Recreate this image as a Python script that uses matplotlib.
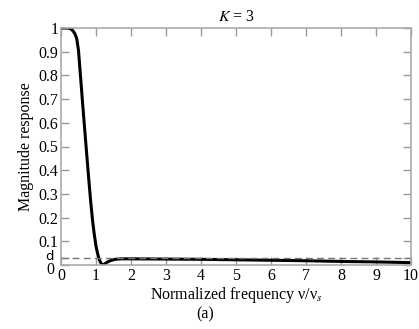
import matplotlib
matplotlib.use('Agg')
import matplotlib.pyplot as plt

plt.rcParams['font.family'] = ['Liberation Serif', 'DejaVu Serif']
plt.rcParams['mathtext.fontset'] = 'stix'

# magnitude response
freq = [0.0, 0.2, 0.3, 0.35, 0.4, 0.45, 0.5, 0.55, 0.6, 0.65, 0.7, 0.75, 0.8,
        0.85, 0.9, 0.95, 1.0, 1.05, 1.1, 1.15, 1.2, 1.3, 1.4, 1.55, 1.73, 2.0,
        3.0, 4.0, 5.0, 6.0, 7.0, 8.0, 9.0, 10.0]
mag = [1.0, 1.0, 0.995, 0.986, 0.975, 0.955, 0.905, 0.81, 0.715, 0.622, 0.53,
       0.44, 0.35, 0.265, 0.19, 0.13, 0.08, 0.045, 0.02, 0.006, 0.0, 0.01, 0.018,
       0.024, 0.026, 0.026, 0.025, 0.024, 0.022, 0.02, 0.018, 0.015, 0.013, 0.01]
d_level = 0.028

yticks = [0, d_level, 0.1, 0.2, 0.3, 0.4, 0.5, 0.6, 0.7, 0.8, 0.9, 1]
ylabels = ['', '', '0.1', '0.2', '0.3', '0.4', '0.5', '0.6', '0.7', '0.8', '0.9', '1']
xticks = list(range(0, 11))

fig = plt.figure(figsize=(4.19, 3.29), dpi=100)
ax = fig.add_axes([61/419, 1 - 265/329, 350/419, 237/329])

ax.plot(freq, mag, color='black', lw=2.2, solid_joinstyle='round')
ax.axhline(d_level, color='#777777', lw=1.0, ls=(0, (5, 3)))

ax.set_xlim(0, 10)
ax.set_ylim(0, 1)
ax.set_xticks(xticks)
ax.set_yticks(yticks)
ax.set_yticklabels(ylabels)

# the '0' and 'd' labels sit a bit apart in the original
ax.annotate('d', xy=(0, d_level), xycoords=('axes fraction', 'data'),
            xytext=(-7, 2), textcoords='offset pixels', ha='right', va='center',
            fontsize=9.5, family='DejaVu Sans')
ax.annotate('0', xy=(0, 0), xycoords=('axes fraction', 'data'),
            xytext=(-7, -5), textcoords='offset pixels', ha='right', va='center',
            fontsize=11.5)

ax.tick_params(direction='in', top=True, right=True, color='#999999', length=6,
               width=1, labelsize=11.5, pad=2)
for s in ax.spines.values():
    s.set_color('#aaaaaa')
    s.set_linewidth(1.2)

ax.set_title('$K$ = 3', fontsize=11.5, pad=5)
ax.set_ylabel('Magnitude response', fontsize=11.5, labelpad=3)
ax.set_xlabel('Normalized frequency ν/ν$_s$', fontsize=11.5, labelpad=1)
fig.text(205/419, 1 - 314/329, '(a)', ha='center', va='center', fontsize=11.5)

fig.savefig('out.png', dpi=100)
